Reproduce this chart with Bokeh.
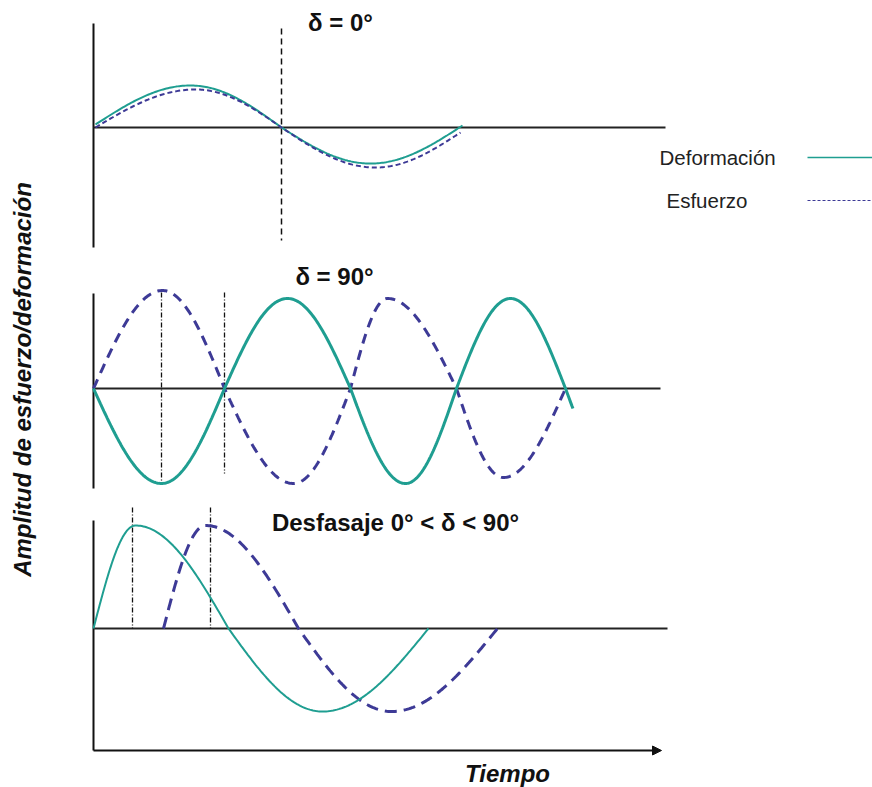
import numpy as np
from bokeh.plotting import figure
from bokeh.models import Range1d, Arrow, NormalHead
from bokeh.core.properties import value
from bokeh.embed import file_html
from bokeh.resources import INLINE

# ---------------- data (time units from the y-axis, amplitude units about each baseline)
# Panel 1: delta = 0
p1_def_t = [2, 97, 188, 277, 369]
p1_def_a = [3, 42, 0, -36, 2]
p1_esf_t = [2, 102, 188, 282, 367]
p1_esf_a = [0, 38, 0, -40, -5]
p1_marks = [188]

# Panel 2: delta = 90
p2_def_t = [0, 68, 131, 194, 257, 312, 363, 417, 472, 527]
p2_def_a = [0, -95, 0, 90, 0, -95, 0, 90, 0, -95]
p2_def_end = 480
p2_esf_t = [0, 69, 131, 200, 257, 294, 363, 410, 472]
p2_esf_a = [0, 98, 0, -95, 0, 90, 0, -89, 0]
p2_marks = [68, 131]

# Panel 3: 0 < delta < 90
p3_def_t = [0, 42, 135, 229, 335]
p3_def_a = [0, 103, 0, -83, 0]
p3_esf_t = [70, 112, 205, 298, 404]
p3_esf_a = [0, 103, 0, -83, 0]
p3_marks = [39, 117]

titles = ["δ = 0°", "δ = 90°", "Desfasaje 0° < δ < 90°"]
legend_labels = ["Deformación", "Esfuerzo"]
y_title = "Amplitud de esfuerzo/deformación"
x_title = "Tiempo"

TEAL = "#1f9e91"
PURPLE = "#3d3a96"
FONT = value("Liberation Sans")

def wave(tk, ak, t_end=None):
    xs, ys = [], []
    for i in range(len(tk) - 1):
        u = np.linspace(0, 1, 60)
        x = tk[i] + (tk[i + 1] - tk[i]) * u
        if i % 2 == 0:
            y = ak[i] + (ak[i + 1] - ak[i]) * np.sin(np.pi / 2 * u)
        else:
            y = ak[i + 1] + (ak[i] - ak[i + 1]) * np.cos(np.pi / 2 * u)
        xs.append(x)
        ys.append(y)
    x = np.concatenate(xs)
    y = np.concatenate(ys)
    if t_end is not None:
        m = x <= t_end
        x, y = x[m], y[m]
    return x, y

p = figure(width=872, height=787, x_range=Range1d(-93, 779), y_range=Range1d(-8, 779),
           output_backend="svg", toolbar_location=None, min_border=0)
p.axis.visible = False
p.grid.visible = False
p.outline_line_color = None
p.background_fill_color = "white"

# baselines (figure units)
B1, B2, B3 = 652, 391, 151

def vline(t, a0, a1, base, dash, w=1.5):
    p.line([t, t], [base + a0, base + a1], line_color="#111111", line_width=w, line_dash=dash)

# ---- Panel 1
p.line([0, 0], [B1 + 104, B1 - 120], line_color="#111111", line_width=2)
p.line([0, 572], [B1, B1], line_color="#222222", line_width=2)
for t in p1_marks:
    vline(t, 99, -113, B1, "6 4")
x, y = wave(p1_def_t, p1_def_a)
p.line(x, y + B1, line_color=TEAL, line_width=2)
x, y = wave(p1_esf_t, p1_esf_a)
p.line(x, y + B1, line_color=PURPLE, line_width=2, line_dash="5 3")

# ---- Panel 2
p.line([0, 0], [B2 + 95, B2 - 100], line_color="#111111", line_width=2)
p.line([0, 567], [B2, B2], line_color="#222222", line_width=2)
vline(p2_marks[0], 96, -95, B2, "5 2 1 2", 1.3)
vline(p2_marks[1], 96, -85, B2, "5 2 1 2", 1.3)
x, y = wave(p2_esf_t, p2_esf_a)
p.line(x, y + B2, line_color=PURPLE, line_width=3, line_dash="10 7")
x, y = wave(p2_def_t, p2_def_a, p2_def_end)
p.line(x, y + B2, line_color=TEAL, line_width=3)

# ---- Panel 3
p.line([0, 0], [B3 + 108, B3 - 122], line_color="#111111", line_width=2)
p.line([0, 574], [B3, B3], line_color="#222222", line_width=2)
p.add_layout(Arrow(end=NormalHead(size=9, fill_color="#111111", line_color="#111111"),
                   x_start=0, y_start=B3 - 122, x_end=568, y_end=B3 - 122,
                   line_color="#111111", line_width=2))
for t in p3_marks:
    vline(t, 121, 0, B3, "5 2 1 2", 1.3)
x, y = wave(p3_esf_t, p3_esf_a)
p.line(x, y + B3, line_color=PURPLE, line_width=3, line_dash="12 7")
x, y = wave(p3_def_t, p3_def_a)
p.line(x, y + B3, line_color=TEAL, line_width=2)

# ---- Titles
p.text(x=[247], y=[757], text=[titles[0]], text_font=FONT, text_font_style="bold",
       text_font_size="24px", text_align="center", text_baseline="middle", text_color="#111111")
p.text(x=[241], y=[503], text=[titles[1]], text_font=FONT, text_font_style="bold",
       text_font_size="24px", text_align="center", text_baseline="middle", text_color="#111111")
p.text(x=[302], y=[257], text=[titles[2]], text_font=FONT, text_font_style="bold",
       text_font_size="24px", text_align="center", text_baseline="middle", text_color="#111111")

# ---- Legend
p.text(x=[566], y=[622], text=[legend_labels[0]], text_font=FONT, text_font_size="20.5px",
       text_align="left", text_baseline="middle", text_color="#222222")
p.text(x=[573], y=[579], text=[legend_labels[1]], text_font=FONT, text_font_size="20.5px",
       text_align="left", text_baseline="middle", text_color="#222222")
p.line([714, 779], [622, 622], line_color=TEAL, line_width=1.5)
p.line([714, 779], [579, 579], line_color=PURPLE, line_width=1, line_dash="3 2")

# ---- Axis titles
p.text(x=[-71], y=[400], text=[y_title], text_font=FONT, text_font_style="bold italic",
       text_font_size="24px", text_align="center", text_baseline="middle",
       angle=np.pi / 2, text_color="#111111")
p.text(x=[414], y=[6], text=[x_title], text_font=FONT, text_font_style="bold italic",
       text_font_size="24px", text_align="center", text_baseline="middle", text_color="#111111")

open("out.html", "w").write(file_html(p, INLINE))
